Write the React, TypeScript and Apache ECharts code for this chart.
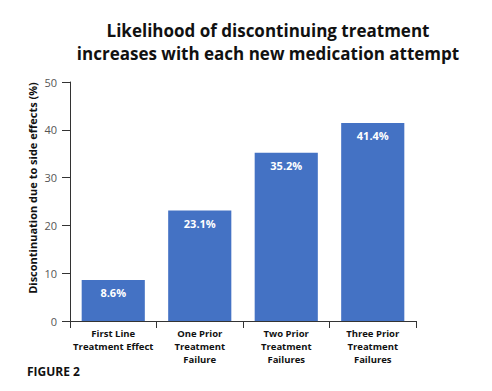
import React, { useEffect, useRef } from "react";
import * as echarts from "echarts";

const categories = [
  "First Line\nTreatment Effect",
  "One Prior\nTreatment\nFailure",
  "Two Prior\nTreatment\nFailures",
  "Three Prior\nTreatment\nFailures",
];
const values = [8.6, 23.1, 35.2, 41.4];
const titleLines = [
  "Likelihood of discontinuing treatment",
  "increases with each new medication attempt",
];
const yAxisName = "Discontinuation due to side effects (%)";
const figureLabel = "FIGURE 2";

const FONT = "'Open Sans', 'Noto Sans', sans-serif";

export default function App() {
  const ref = useRef<HTMLDivElement>(null);
  useEffect(() => {
    if (!ref.current) return;
    const chart = echarts.init(ref.current, undefined, { renderer: "svg" });
    chart.setOption({
      animation: false,
      backgroundColor: "#ffffff",
      textStyle: { fontFamily: FONT },
      grid: { left: 70, top: 82, right: 76, bottom: 70, containLabel: false },
      graphic: [
        {
          type: "text",
          x: 268,
          y: 19,
          style: {
            text: titleLines.join("\n"),
            font: `bold 17px ${FONT}`,
            lineHeight: 23,
            fill: "#111111",
            textAlign: "center",
          },
        },
        {
          type: "text",
          x: 32,
          y: 188,
          rotation: Math.PI / 2,
          style: {
            text: yAxisName,
            font: `bold 11px ${FONT}`,
            fill: "#111111",
            textAlign: "center",
            textVerticalAlign: "middle",
          },
        },
        {
          type: "text",
          x: 27,
          y: 365,
          style: {
            text: figureLabel,
            font: `bold 12px ${FONT}`,
            fill: "#111111",
          },
        },
      ],
      xAxis: {
        type: "category",
        data: categories,
        axisLine: { show: true, lineStyle: { color: "#333333", width: 1 } },
        axisTick: { show: true, length: 7, lineStyle: { color: "#333333" } },
        axisLabel: {
          color: "#111111",
          fontWeight: "bold",
          fontSize: 9.5,
          lineHeight: 13,
          margin: 6,
          fontFamily: FONT,
          interval: 0,
        },
      },
      yAxis: {
        type: "value",
        min: 0,
        max: 50,
        interval: 10,
        axisLine: { show: true, lineStyle: { color: "#333333", width: 1 } },
        axisTick: { show: true, length: 8, lineStyle: { color: "#333333" } },
        axisLabel: { color: "#555555", fontSize: 11, margin: 13, fontFamily: FONT },
        splitLine: { show: false },
      },
      series: [
        {
          type: "bar",
          data: values,
          barWidth: "73%",
          itemStyle: { color: "#4472C4" },
          label: {
            show: true,
            position: "insideTop",
            distance: 7,
            formatter: "{c}%",
            color: "#ffffff",
            fontWeight: "bold",
            fontSize: 11,
            fontFamily: FONT,
          },
        },
      ],
    });
    return () => chart.dispose();
  }, []);
  return <div ref={ref} style={{ width: 492, height: 391, position: "absolute", left: 0, top: 0 }} />;
}
